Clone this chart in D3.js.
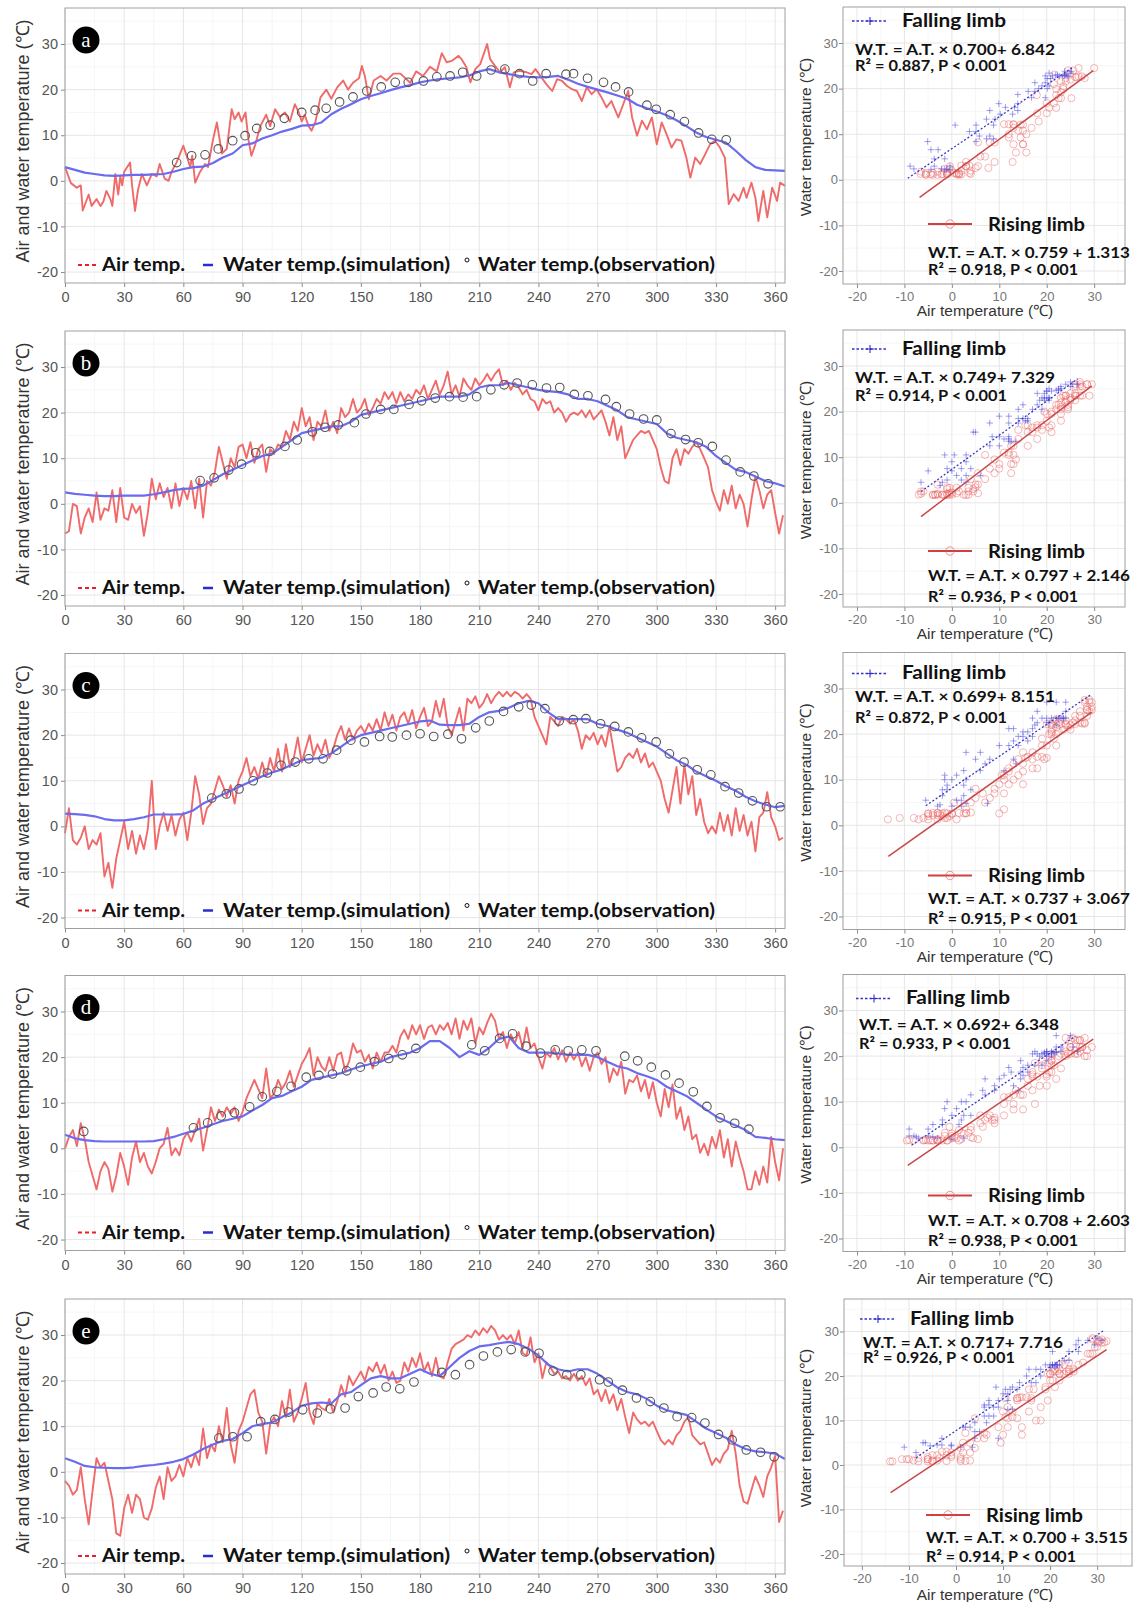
<!DOCTYPE html>
<html>
<head>
<meta charset="utf-8">
<script src="https://cdn.jsdelivr.net/npm/d3@7"></script>
<style>
  body { margin: 0; background: #fff; }
  svg { display: block; }
</style>
</head>
<body>
<div id="chart"></div>
<script>
// ---- data ----
var letters = ["a", "b", "c", "d", "e"];
var dayTicks = [0, 30, 60, 90, 120, 150, 180, 210, 240, 270, 300, 330, 360];
var dayMinor = [15, 45, 75, 105, 135, 165, 195, 225, 255, 285, 315, 345];
var tempTicks = [-20, -10, 0, 10, 20, 30];
var tempMinor = [-15, -5, 5, 15, 25, 35];

// simulated water temperature is read every 5 days
var simDays = d3.range(0, 366, 5);

// air temperature: [day of year, °C]
var airA = [[0,3],[3,-0.5],[6,-1.5],[8,-1],[9,-6.5],[12,-3],[13.5,-5.5],[16,-4],[18,-5.5],[19.5,-4.5],[21,-2.2],[23,-4],[24,-5.5],[25.5,1.5],[27,-3],[28,1],[29,-1],[30,2],[33,4],[34,-1],[35.5,-6.6],[37,-2],[39,1.5],[41.5,-1],[44,1.5],[46.5,1],[48,3.7],[50.5,0.5],[52.5,0],[54,2],[56.5,4],[60,7.7],[62,5],[63.5,3],[64.5,5.5],[66,-0.4],[68.5,2],[71,3.7],[72.5,3],[75,9],[77,12.8],[79.5,6],[82,7],[84.5,15.7],[86,13.5],[88,15],[89.5,13],[91.5,15],[93,9],[94.5,5.5],[96.5,8],[99,12],[102,14.5],[104,12],[106.5,15.7],[109,14],[111.5,15],[114,13],[116.5,16.8],[118.5,15],[120,13],[121.5,14.5],[123.5,12],[125,11],[127,13],[129.5,18.3],[132.5,20],[135,18],[138,20.5],[141,22],[143.5,20],[146,21.5],[149,22.5],[150.5,25.2],[152,23],[154,17.9],[156.5,22],[160,23],[163,22],[166.5,23.5],[170,23.5],[175,21.5],[178,24],[181.5,23],[185,25],[188.5,24],[191,28],[193.5,26],[196,26.3],[199.5,27.4],[201,26.7],[203.5,24.9],[205.5,21.6],[208,24.5],[210.5,25.6],[214,30],[215.5,26.7],[218,25.2],[220.5,23.8],[223,24.9],[225.5,20.5],[227.5,23.8],[230.5,24.1],[234,23.8],[236.5,23.4],[238.5,24.5],[241.5,22.7],[244,21.2],[247,19.7],[249.5,22.3],[252,21.9],[254.5,20.8],[257,20.1],[259.5,19.7],[262,17.5],[264.5,20.5],[267,19],[269.5,20.1],[272,18.3],[274.5,16.1],[277,17.5],[280.5,13.9],[283,16.8],[285.5,19.7],[287.5,13.9],[290,9.9],[292.5,13.2],[295,11.3],[297.5,13.9],[300,8],[302.5,12.8],[305,10.2],[307.5,7.3],[310,9.1],[312.5,8.8],[315,5.1],[317,0.7],[319.5,5.1],[322,3.7],[324.5,5.8],[327,8],[329.5,8.8],[332,7.3],[334.5,5.1],[336.5,-5.1],[339,-2.9],[341.5,-4.4],[344,-1.5],[345.5,-3.7],[348,-0.4],[350,-3.7],[351.5,-8.8],[354,-2.2],[356,-8],[358.5,-1.5],[361,-4.4],[362.5,-0.4],[365,-1.1]];
var airB = [[0,-6.5],[2,-6],[4,0],[6,-0.5],[8,-6.5],[10,-3],[12,-1],[14,-4],[16,2.5],[18,-3.5],[20,-1],[22,-1.5],[24,3],[26,-4],[28,3.5],[30,-3],[32,-3.5],[34,0],[36,-2],[38,-0.5],[40,-7],[42,-2],[44,5.5],[46,1],[48,4.5],[50,1.5],[52,3.5],[54,-1],[56,4.5],[58,-0.5],[60,3.5],[62,1],[64,5],[66,-1],[68,5.5],[70,-3],[72,5],[74,4],[76,7],[78,12.5],[80,9],[82,5.5],[84,10],[86,8],[88,12.5],[90,13],[92,10],[94,13.5],[96,9],[98,12],[100,13],[102,7],[104,12],[106,11],[108,13],[110,12.5],[112,16],[114,14],[116,18],[118,16],[120,21],[122,17],[124,19],[126,14],[128,18],[130,17],[132,20.5],[134,16],[136,18],[138,15.5],[140,21],[142,19],[144,20],[146,23],[148,20],[150,21],[152,23],[154,19.5],[156,21],[158,23],[160,22],[162,24.5],[164,23],[166,24.5],[168,22],[170,24.5],[172,22.5],[174,24],[176,23],[178,25],[180,24],[182,26],[184,23],[186,25],[188,27],[190,24],[192,26],[194,29],[196,24],[198,26],[200,23.5],[202,27.5],[204,26],[206,25],[208,27.5],[210,26],[212,27],[214,28.5],[216,27],[218,28.5],[220,29.5],[222,26],[224,27],[226,25],[228,26.5],[230,25.5],[232,24],[234,25],[236,23],[238,22.5],[240,20.5],[242,23],[244,22],[246,22.5],[248,20],[250,21],[252,20],[254,18],[256,19.5],[258,20],[260,19.5],[262,20.5],[264,19],[266,20.5],[268,18.5],[270,19.5],[272,20.5],[274,18],[276,15],[278,19],[280,14],[282,17],[284,10],[286,12],[288,14],[290,15],[292,16],[294,15.5],[296,16],[298,14],[300,12],[302,8],[304,5],[306,4.5],[308,10],[310,12],[312,8.5],[314,12],[316,11],[318,12.5],[320,13.5],[322,12],[324,10],[326,8],[328,3],[330,0.5],[332,-1.5],[334,3],[336,0],[338,4],[340,-1],[342,2],[344,0],[346,-5],[348,1],[350,6],[352,3],[354,-1],[356,2],[358,3],[360,-2],[362,-6.5],[364,-2.5]];
var airC = [[0,-1.5],[2,4],[4,-3],[6,-4],[8,-2.5],[10,0],[12,-5],[14,-3],[16,-4],[18,-1.5],[20,-11],[22,-8],[24,-13.5],[26,-7],[28,-3],[30,1],[32,-5],[34,-1],[36,-6],[38,-2],[40,-5],[42,-0.5],[44,10],[46,-5],[48,0],[50,3],[52,-1],[54,2.5],[56,-2],[58,1.5],[60,3],[62,-3],[64,3],[66,11],[68,7],[70,0.5],[72,4],[74,5],[76,8],[78,11],[80,9],[82,6.5],[84,9],[86,5],[88,10],[90,12],[92,15],[94,11],[96,13],[98,10.5],[100,14],[102,11],[104,15],[106,12],[108,17],[110,12],[112,18],[114,13],[116,15],[118,19.5],[120,14],[122,17],[124,20],[126,15.5],[128,18],[130,16],[132,19],[134,15],[136,17],[138,20],[140,22],[142,19],[144,21.5],[146,19],[148,21],[150,22],[152,20.5],[154,22.5],[156,21],[158,23.5],[160,21],[162,25],[164,22],[166,24.5],[168,21],[170,24],[172,25],[174,22.5],[176,25.5],[178,21.5],[180,24],[182,26],[184,22],[186,23],[188,27.5],[190,24],[192,28],[194,22],[196,20],[198,23],[200,26],[202,21],[204,28],[206,27],[208,28.5],[210,26],[212,27],[214,29],[216,27],[218,28.5],[220,29.5],[222,28.5],[224,29.5],[226,28.5],[228,29.5],[230,29],[232,28],[234,29],[236,28],[238,24],[240,22],[242,20],[244,18],[246,24],[248,23],[250,22],[252,24],[254,23.5],[256,22.5],[258,23.5],[260,21],[262,17],[264,20],[266,19],[268,20.5],[270,18],[272,20],[274,17.5],[276,22],[278,17],[280,12],[282,13],[284,15],[286,16],[288,15],[290,17],[292,14],[294,16],[296,13],[298,14],[300,12],[302,10],[304,6],[306,3],[308,8],[310,13],[312,5],[314,13.5],[316,7],[318,11],[320,2.5],[322,6],[324,1],[326,-1.5],[328,0],[330,-1.5],[332,3],[334,-1],[336,2.5],[338,-2],[340,4],[342,-1],[344,2.5],[346,-2],[348,1],[350,-5.5],[352,2],[354,3],[356,7.5],[358,2],[360,0],[362,-3],[364,-2.5]];
var airD = [[0,0],[2,2.5],[4,4],[6,0.5],[8,5.5],[10,2],[12,-3],[14,-6],[16,-9],[18,-5],[20,-3],[22,-4.5],[24,-9.5],[26,-6],[28,-1],[30,-4],[32,-8],[34,-2],[36,1.5],[38,-3],[40,-1],[42,-4],[44,-5.5],[46,-3],[48,0],[50,1],[52,4.5],[54,-1.5],[56,0],[58,-1.5],[60,2],[62,3.5],[64,1.5],[66,4],[68,6.5],[70,-0.5],[72,4],[74,9],[76,6],[78,8.5],[80,7],[82,9],[84,7.5],[86,9],[88,6],[90,8],[92,11],[94,13],[96,15],[98,13],[100,11],[102,17.5],[104,11],[106,12],[108,15],[110,13],[112,14.5],[114,17],[116,13.5],[118,16],[120,18.5],[122,20],[124,22],[126,16],[128,20],[130,18],[132,17],[134,20],[136,17],[138,20.5],[140,21],[142,17],[144,19],[146,23],[148,21],[150,21.5],[152,19],[154,20.5],[156,17.5],[158,21],[160,19],[162,21],[164,21],[166,22.5],[168,21],[170,24.5],[172,26],[174,24],[176,27],[178,25],[180,27],[182,24],[184,26.5],[186,27],[188,25],[190,27],[192,26],[194,27.5],[196,25],[198,28.5],[200,24],[202,28],[204,26],[206,28.5],[208,23],[210,26.5],[212,25],[214,27.5],[216,29.5],[218,28],[220,24],[222,25.5],[224,22],[226,25],[228,23],[230,25.5],[232,22],[234,26.5],[236,22],[238,23],[240,20],[242,17.5],[244,21],[246,20],[248,22],[250,19.5],[252,21.5],[254,19],[256,21],[258,19.5],[260,21],[262,18],[264,20],[266,17],[268,20],[270,21],[272,18.5],[274,20],[276,14.5],[278,17.5],[280,16],[282,19],[284,12],[286,15],[288,14.5],[290,16],[292,12.5],[294,15],[296,11],[298,14.5],[300,10],[302,7],[304,13],[306,9],[308,14],[310,6.5],[312,9],[314,4],[316,7],[318,2],[320,3],[322,-1],[324,1],[326,-1.5],[328,2.5],[330,0],[332,4],[334,-2],[336,2],[338,-4],[340,1.5],[342,-2],[344,-5],[346,-9],[348,-9],[350,-5],[352,-8],[354,-4],[356,-7.5],[358,2.5],[360,-3],[362,-7],[364,0]];
var airE = [[0,-2],[2,-3],[4,-5],[6,-4],[8,1],[10,-6],[12,-11.5],[14,-4],[16,3],[18,1],[20,2],[22,-2],[24,-6],[26,-13.5],[28,-14],[30,-8],[32,-5],[34,-9],[36,-5],[38,-6],[40,-10],[42,-10.5],[44,-8],[46,-3.5],[48,-1],[50,-6],[52,1],[54,-2],[56,-1],[58,1.5],[60,-1],[62,3],[64,1],[66,4],[68,1.5],[70,9.5],[72,3],[74,6],[76,4.5],[78,10],[80,6.5],[82,14],[84,6],[86,2],[88,9],[90,11],[92,14],[94,17],[96,18],[98,13],[100,11],[102,4],[104,10.5],[106,12],[108,10],[110,15.5],[112,12],[114,18],[116,11],[118,13],[120,16],[122,19.5],[124,13],[126,10.5],[128,15],[130,14],[132,13.5],[134,16],[136,13],[138,15.5],[140,19],[142,16.5],[144,21],[146,19],[148,20.5],[150,22],[152,20],[154,23],[156,22],[158,24],[160,21.5],[162,23.5],[164,20],[166,22],[168,19.5],[170,20],[172,24],[174,22],[176,25],[178,23],[180,26],[182,22],[184,24],[186,21],[188,25],[190,21],[192,20.5],[194,24],[196,27],[198,28],[200,28.5],[202,29],[204,30],[206,29.5],[208,31],[210,30],[212,31.5],[214,30.5],[216,32],[218,31],[220,29],[222,30],[224,29],[226,30],[228,28],[230,31],[232,26],[234,25.5],[236,29.5],[238,24],[240,26],[242,20.5],[244,24],[246,23],[248,21.5],[250,22],[252,20.5],[254,21],[256,20],[258,21.5],[260,20],[262,21],[264,19],[266,20.5],[268,17],[270,18],[272,15.5],[274,18],[276,15],[278,17],[280,13.5],[282,16],[284,12],[286,8.5],[288,13],[290,11.5],[292,10.5],[294,11],[296,10],[298,11],[300,9],[302,7],[304,6],[306,7],[308,6],[310,8],[312,9],[314,11],[316,12],[318,8],[320,7],[322,6],[324,6.5],[326,4],[328,1.5],[330,3],[332,2],[334,4],[336,5],[338,9],[340,4],[342,-3],[344,-6.5],[346,-7],[348,-4],[350,-1],[352,-3],[354,-5.5],[356,-1],[358,1],[360,3.5],[362,-11],[364,-8.5]];

// simulated water temperature, one value per simDays entry
var simA = [3,2.4,1.8,1.5,1.2,1.1,1.2,1.3,1.3,1.4,1.5,2,2.6,3,3.1,3.9,5.1,6,7.8,8.2,9.3,10,10.8,11.4,12.1,12.2,12.8,14.6,15.8,16.8,17.9,18.6,19.2,19.9,20.5,21,21.6,22,22.3,22.5,22.7,23.1,24,24.5,23.8,23.4,23,22.8,22.7,22.8,23,22.2,21.3,20.6,20,19.4,18.7,18,16.7,15.9,15.2,14.4,13.3,12,10.6,9.6,9,8.4,6.6,4.6,3,2.4,2.3,2.2];
var simB = [2.5,2.2,2,1.8,1.7,1.7,1.8,1.8,1.8,2.1,2.5,3,3.3,3.4,4,5.2,6.5,7.5,8.5,9.5,10.5,11,12.5,14,15.5,16,16.5,17,17,18,19.5,20,20.5,21,21.5,22,22.5,23,23.5,23.5,23.5,24,25.5,26,26,26.5,26,25.5,25,24.7,24.5,24,23,23,22.5,21.5,20.5,19,18.5,18,17.5,15.5,14.5,14,13.5,12.5,10.5,9,7.5,7,6,5,4.5,3.8];
var simC = [2.8,2.7,2.5,2.2,1.6,1.3,1.3,1.6,2,2.6,2.6,2.6,2.7,3.5,5,6,7,8,9,10,11,11.8,12.5,13.5,14.5,14.8,15,16,17.5,19,20,20.5,21,21.5,22,22.5,23,23.2,22.3,22.2,22.2,22.5,24,25,25.3,26,27,27.5,27,25,23.5,23.5,23.5,23.5,22.5,22,21.2,20.5,19.5,18.5,17.5,16,14.5,13.5,12,11,10,8.8,7.8,6.5,5.5,4.8,4.2,4.5];
var simD = [3,2.2,1.8,1.6,1.5,1.5,1.5,1.5,1.5,1.6,2,2.5,3.2,3.8,4.5,5.3,6,6.5,7,8.3,9.5,11,11.5,12.5,13.5,15,15.5,16,16.5,17.3,18,18.5,19,20,20.5,21,22,23.5,23.5,22,20,21.3,20.5,22,24,24.5,22,21,21,21,20.8,20.5,20.5,20.5,20,19,18,17.5,16.5,15.8,15,13.5,12.5,11.5,10,8.5,7,6,5,4,2.5,2.3,2,1.8];
var simE = [3,2.2,1.3,1,0.9,0.8,0.8,1,1.3,1.5,1.8,2.2,2.8,3.8,5,6,6.8,7.2,8.5,10,10.5,10.8,12,13,14.5,15,15.2,15,17,17.5,19,20.5,21,20.5,20.5,21.5,22.5,21.5,21,23,25,26.5,27.5,27.8,28.2,28.5,28,27,25.5,23.5,22.5,22,22.5,22.5,21.5,20,18.5,17.5,17,16,14.5,13.5,13,12.5,11,9.5,8.5,7.5,6,5,4.5,4.3,4,2.8];

// observed water temperature: [day, °C]
var obsA = [[56.6,4],[64.2,5.5],[71,5.7],[77.7,7],[85,8.8],[91.3,9.9],[97.2,11.5],[104,12.2],[111.2,13.7],[120,15],[126.8,15.5],[132.4,15.9],[139.2,17.3],[146,18.4],[153,19.7],[160.3,20.6],[167.4,21.6],[174,21.6],[181.7,21.9],[188.5,22.8],[195.2,23],[201.6,23.8],[208.7,23],[216,24.3],[223,24.5],[230.4,23.5],[237.1,21.9],[243.9,23.5],[254,23.4],[257.8,23.5],[264.9,22.5],[273,21.6],[279.1,20.6],[285.7,19.5],[295,16.6],[299.7,15.7],[306.8,14.5],[314,13],[321.2,10.5],[327.9,9.1],[335.2,9]];
var obsB = [[68.5,5.1],[75.6,5.7],[83,7.4],[89.5,8.7],[96.7,11.2],[103.8,11.5],[111.5,12.6],[117.7,14],[125.4,15.8],[131.8,16.8],[138.5,17.3],[146.7,17.8],[152.6,19.7],[160,20.7],[166.7,20.7],[174.4,21.8],[180.8,22.6],[187.7,23.2],[194.9,23.5],[201.8,23.4],[208.7,23.5],[215.9,25],[222.6,26.1],[229.2,26.5],[236.9,26.1],[244.1,25.4],[250.8,25.5],[258.2,24],[265.1,23.7],[274,22.9],[279.5,21.3],[286.2,19.7],[293.3,18.6],[300,18.4],[307.2,15.4],[314.6,14.1],[321,13.4],[328.2,12.6],[335.1,9.6],[342.3,7],[349.2,6.1],[356.4,4.4]];
var obsC = [[74.4,6.2],[81.8,7.1],[88.2,8.2],[95.4,10],[102.6,11.7],[109.5,13.4],[116.7,14.1],[123.6,14.8],[130.8,14.8],[137.7,16.7],[144.9,18.9],[151.8,18.5],[159.5,19.7],[165.9,19.6],[173.1,20],[180,20.3],[186.9,19.7],[194.1,20.2],[201,19.2],[208.2,21.6],[215.1,23.1],[222.3,25.2],[230,26.2],[236.4,26.6],[243.3,25.8],[250.5,23.1],[257.7,23.4],[264.1,23.6],[271.5,22.5],[278.7,21.9],[285.6,20.7],[292.3,19.4],[299.7,18.5],[306.4,15.9],[313.8,14.1],[320.5,12.4],[327.4,11.3],[334.6,8.7],[341.5,7.3],[348.5,5.6],[355.6,4.3],[362.6,4.3]];
var obsD = [[9.5,3.7],[65.1,4.5],[72.3,5.6],[79.2,7.1],[85.9,7.8],[93.6,9.1],[100,11.3],[107.4,12.5],[114.6,13.6],[122.3,15.6],[128.7,16],[135.6,16.3],[142.8,17],[149.7,17.8],[156.9,19],[164.1,19.7],[171,20.5],[177.9,21.9],[206.2,22.7],[212.8,21.4],[220.3,24.1],[226.9,25.1],[233.8,22.4],[241,20.9],[248.5,21.6],[255.1,21.4],[262,21.6],[269.2,21.4],[283.8,20.2],[290.3,19.2],[297.2,17.8],[304.4,16.1],[311.3,14.3],[318.5,12.4],[325.4,9.2],[332.1,6.7],[339.5,5.5],[346.7,4.2]];
var obsE = [[78,7.4],[85.1,7.7],[92.3,7.7],[99.2,11],[106.4,11.5],[113.3,13.1],[120.5,13.6],[127.9,12.9],[134.6,13.8],[142,14],[148.7,16.5],[156.2,17.3],[162.8,18.6],[169.7,18.2],[176.9,19.7],[191,21.8],[197.9,21.3],[205.1,23.5],[212.1,25.4],[219.2,26.3],[226.2,26.8],[233.3,26.3],[240.3,26],[247.4,22.1],[254.4,21.3],[261.5,21.3],[271,20.2],[275.4,19.7],[282.6,17.9],[289.7,16.2],[296.7,15.4],[303.6,14],[310.3,12.1],[317.7,11.9],[324.4,10.7],[331.3,8.2],[338.2,7],[345.4,4.8],[352.6,4.3],[359.5,3.3]];

// day of the water peak: before it = rising limb, after it = falling limb
var peakDay = [216, 225, 236, 222, 225];

// fitted lines [slope, intercept] and the air range each one spans
var fallingFit = [[0.700, 6.842], [0.749, 7.329], [0.699, 8.151], [0.692, 6.348], [0.717, 7.716]];
var risingFit = [[0.759, 1.313], [0.797, 2.146], [0.737, 3.067], [0.708, 2.603], [0.700, 3.515]];
var fallingRange = [[-9.3, 25.5], [-6.5, 26.5], [-5.5, 29.5], [-8.5, 26], [-8.5, 31.5]];
var risingRange = [[-6.8, 29.8], [-6.5, 29.5], [-13.4, 29.5], [-9.3, 29.8], [-13.9, 32]];

var fallingEq = ["W.T. = A.T.  × 0.700+ 6.842", "W.T. = A.T.  × 0.749+ 7.329", "W.T. = A.T.  × 0.699+ 8.151", "W.T. = A.T.  × 0.692+ 6.348", "W.T. = A.T.  × 0.717+ 7.716"];
var fallingR2 = ["R² = 0.887, P < 0.001", "R² = 0.914, P < 0.001", "R² = 0.872, P < 0.001", "R² = 0.933, P < 0.001", "R² = 0.926, P < 0.001"];
var risingEq = ["W.T. = A.T.  × 0.759 + 1.313", "W.T. = A.T.  × 0.797 + 2.146", "W.T. = A.T.  × 0.737 + 3.067", "W.T. = A.T.  × 0.708 + 2.603", "W.T. = A.T.  × 0.700 + 3.515"];
var risingR2 = ["R² = 0.918, P < 0.001", "R² = 0.936, P < 0.001", "R² = 0.915, P < 0.001", "R² = 0.938, P < 0.001", "R² = 0.914, P < 0.001"];

var panels = [
    { air: airA, sim: simA, obs: obsA },
    { air: airB, sim: simB, obs: obsB },
    { air: airC, sim: simC, obs: obsC },
    { air: airD, sim: simD, obs: obsD },
    { air: airE, sim: simE, obs: obsE }
];

// ---- layout ----
var panelTop = [0, 323, 645.5, 967.5, 1291];
var scatterBox = [
    { x0: 843, x1: 1125, y0: 7, y1: 284, xd: [-22.95, 36.5], yd: [-22.85, 37.9], xTitleY: 311 },
    { x0: 843, x1: 1125, y0: 7, y1: 284, xd: [-22.95, 36.5], yd: [-22.85, 37.9], xTitleY: 311 },
    { x0: 843, x1: 1125, y0: 7, y1: 284, xd: [-22.95, 36.5], yd: [-22.85, 37.9], xTitleY: 311 },
    { x0: 843, x1: 1125, y0: 7, y1: 284, xd: [-22.95, 36.5], yd: [-22.85, 37.9], xTitleY: 311 },
    { x0: 844, x1: 1132, y0: 8, y1: 275, xd: [-23.8, 37.4], yd: [-22.7, 37.3], xTitleY: 304 }
];
// text rows of the two legend blocks: [title, equation, R²] and x shifts
var fallY = [[20, 50, 66], [25, 55, 73], [27, 51, 72], [30, 57, 76], [27, 52, 67]];
var riseY = [[224, 253, 270], [228, 253, 274], [230, 253, 273], [228, 253, 273], [224, 247, 266]];
var fallDx = [0, 0, 0, 4, 8];
var riseDx = [0, 0, 0, 0, -2];

var tickFont = "'Liberation Sans', Arial, sans-serif";
var boldFont = "Lato, 'Open Sans', sans-serif";

var svg = d3.select("#chart")
    .append("svg")
    .attr("width", 1136)
    .attr("height", 1602);

var x = d3.scaleLinear().domain([0, 365]).range([65, 785]);
var y = d3.scaleLinear().domain([-22.4, 37.9]).range([283, 8]);

var airLine = d3.line()
    .x(function (d) { return x(d[0]); })
    .y(function (d) { return y(d[1]); });

var simLine = d3.line()
    .x(function (d, k) { return x(simDays[k]); })
    .y(function (d) { return y(d); });

var plain = function (d) { return String(d); };

function grid(g, xs, ys, xv, yv, color, width) {
    g.append("g").selectAll("line").data(xv).enter().append("line")
        .attr("x1", function (d) { return xs(d); })
        .attr("x2", function (d) { return xs(d); })
        .attr("y1", ys.range()[0]).attr("y2", ys.range()[1])
        .attr("stroke", color).attr("stroke-width", width);
    g.append("g").selectAll("line").data(yv).enter().append("line")
        .attr("y1", function (d) { return ys(d); })
        .attr("y2", function (d) { return ys(d); })
        .attr("x1", xs.range()[0]).attr("x2", xs.range()[1])
        .attr("stroke", color).attr("stroke-width", width);
}

function styleAxis(a, size, color) {
    a.attr("font-family", tickFont).attr("font-size", size);
    a.select(".domain").remove();
    a.selectAll(".tick line").attr("stroke", "#8a8a8a");
    a.selectAll(".tick text").attr("fill", color);
}

function boldText(g, tx, ty, str, size, len) {
    return g.append("text")
        .attr("x", tx).attr("y", ty)
        .attr("dy", "0.35em")
        .attr("font-family", boldFont)
        .attr("font-weight", "bold")
        .attr("font-size", size)
        .attr("fill", "#111")
        .attr("textLength", len)
        .attr("lengthAdjust", "spacingAndGlyphs")
        .text(str);
}

panels.forEach(function (p, i) {
    var g = svg.append("g").attr("transform", "translate(0," + panelTop[i] + ")");

    // ---------- time series ----------
    grid(g, x, y, dayMinor, tempMinor, "#f4f4f4", 0.8);
    grid(g, x, y, dayTicks, tempTicks, "#e6e6e6", 1);

    g.append("g")
        .attr("transform", "translate(0,283)")
        .call(d3.axisBottom(x).tickValues(dayTicks).tickFormat(plain).tickSize(4).tickPadding(5))
        .call(styleAxis, 14.5, "#555");

    g.append("g")
        .attr("transform", "translate(65,0)")
        .call(d3.axisLeft(y).tickValues(tempTicks).tickFormat(plain).tickSize(4).tickPadding(3))
        .call(styleAxis, 14.5, "#555");

    g.append("text")
        .attr("transform", "translate(23,141) rotate(-90)")
        .attr("text-anchor", "middle")
        .attr("dy", "0.35em")
        .attr("font-family", tickFont)
        .attr("font-size", 18)
        .attr("fill", "#333")
        .text("Air and water temperature (℃)");

    g.append("path")
        .attr("d", airLine(p.air))
        .attr("fill", "none")
        .attr("stroke", "#f06a6a")
        .attr("stroke-width", 1.9)
        .attr("stroke-linejoin", "round");

    g.append("path")
        .attr("d", simLine(p.sim))
        .attr("fill", "none")
        .attr("stroke", "#6b6bef")
        .attr("stroke-width", 2.2)
        .attr("stroke-linejoin", "round");

    g.append("g").selectAll("circle")
        .data(p.obs)
        .enter().append("circle")
        .attr("cx", function (d) { return x(d[0]); })
        .attr("cy", function (d) { return y(d[1]); })
        .attr("r", 4.3)
        .attr("fill", "none")
        .attr("stroke", "#555")
        .attr("stroke-width", 1.1);

    g.append("rect")
        .attr("x", 65).attr("y", 8)
        .attr("width", 720).attr("height", 275)
        .attr("fill", "none")
        .attr("stroke", "#a0a0a0");

    // legend
    g.append("line")
        .attr("x1", 78).attr("x2", 98).attr("y1", 265).attr("y2", 265)
        .attr("stroke", "#e8202a").attr("stroke-width", 2)
        .attr("stroke-dasharray", "4,3");
    boldText(g, 102, 265, "Air temp.", 18, 83);
    g.append("line")
        .attr("x1", 203).attr("x2", 213).attr("y1", 265).attr("y2", 265)
        .attr("stroke", "#2b2bd0").attr("stroke-width", 2.5);
    boldText(g, 223, 265, "Water temp.(simulation)", 18, 227);
    g.append("circle")
        .attr("cx", 467).attr("cy", 260).attr("r", 2)
        .attr("fill", "none").attr("stroke", "#111").attr("stroke-width", 1);
    boldText(g, 478, 265, "Water temp.(observation)", 18, 237);

    // panel letter
    g.append("circle")
        .attr("cx", 86).attr("cy", 40).attr("r", 13.5)
        .attr("fill", "#000");
    g.append("text")
        .attr("x", 86).attr("y", 40)
        .attr("dy", "0.32em")
        .attr("text-anchor", "middle")
        .attr("font-family", "'Liberation Serif', 'DejaVu Serif', serif")
        .attr("font-size", 21)
        .attr("fill", "#fff")
        .text(letters[i]);

    // ---------- scatter of water vs air temperature ----------
    var b = scatterBox[i];
    var sx = d3.scaleLinear().domain(b.xd).range([b.x0, b.x1]);
    var sy = d3.scaleLinear().domain(b.yd).range([b.y1, b.y0]);

    grid(g, sx, sy, tempMinor, tempMinor, "#f4f4f4", 0.8);
    grid(g, sx, sy, tempTicks, tempTicks, "#e6e6e6", 1);

    g.append("g")
        .attr("transform", "translate(0," + b.y1 + ")")
        .call(d3.axisBottom(sx).tickValues(tempTicks).tickFormat(plain).tickSize(4).tickPadding(4))
        .call(styleAxis, 13, "#777");

    g.append("g")
        .attr("transform", "translate(" + b.x0 + ",0)")
        .call(d3.axisLeft(sy).tickValues(tempTicks).tickFormat(plain).tickSize(4).tickPadding(1))
        .call(styleAxis, 13, "#777");

    g.append("text")
        .attr("transform", "translate(806,137) rotate(-90)")
        .attr("text-anchor", "middle")
        .attr("dy", "0.35em")
        .attr("font-family", tickFont)
        .attr("font-size", 15.5)
        .attr("fill", "#333")
        .text("Water temperature (℃)");

    g.append("text")
        .attr("x", 985).attr("y", b.xTitleY)
        .attr("text-anchor", "middle")
        .attr("dy", "0.35em")
        .attr("font-family", tickFont)
        .attr("font-size", 15.5)
        .attr("fill", "#333")
        .text("Air temperature (℃)");

    // pair each air reading with the water value of the nearest 5-day sample
    var pts = p.air.map(function (d) {
        return { air: d[1], water: p.sim[Math.round(d[0] / 5)], rising: d[0] <= peakDay[i] };
    });

    g.append("g").selectAll("circle")
        .data(pts.filter(function (d) { return d.rising; }))
        .enter().append("circle")
        .attr("cx", function (d) { return sx(d.air); })
        .attr("cy", function (d) { return sy(d.water); })
        .attr("r", 3.6)
        .attr("fill", "none")
        .attr("stroke", "rgba(232,95,95,0.45)")
        .attr("stroke-width", 1);

    g.append("g").selectAll("path")
        .data(pts.filter(function (d) { return !d.rising; }))
        .enter().append("path")
        .attr("transform", function (d) { return "translate(" + sx(d.air) + "," + sy(d.water) + ")"; })
        .attr("d", "M-3.2,0H3.2M0,-3.2V3.2")
        .attr("stroke", "rgba(70,70,225,0.5)")
        .attr("stroke-width", 1);

    var ff = fallingFit[i], rf = risingFit[i];
    g.append("line")
        .attr("x1", sx(fallingRange[i][0])).attr("y1", sy(ff[0] * fallingRange[i][0] + ff[1]))
        .attr("x2", sx(fallingRange[i][1])).attr("y2", sy(ff[0] * fallingRange[i][1] + ff[1]))
        .attr("stroke", "#3838c0").attr("stroke-width", 1.3)
        .attr("stroke-dasharray", "2,2");
    g.append("line")
        .attr("x1", sx(risingRange[i][0])).attr("y1", sy(rf[0] * risingRange[i][0] + rf[1]))
        .attr("x2", sx(risingRange[i][1])).attr("y2", sy(rf[0] * risingRange[i][1] + rf[1]))
        .attr("stroke", "#c84848").attr("stroke-width", 1.5);

    g.append("rect")
        .attr("x", b.x0).attr("y", b.y0)
        .attr("width", b.x1 - b.x0).attr("height", b.y1 - b.y0)
        .attr("fill", "none")
        .attr("stroke", "#a0a0a0");

    // scatter legends and equations
    var fdx = fallDx[i], fy = fallY[i];
    g.append("line")
        .attr("x1", 852 + fdx).attr("x2", 887 + fdx).attr("y1", fy[0] + 1).attr("y2", fy[0] + 1)
        .attr("stroke", "#3030c8").attr("stroke-width", 1.6)
        .attr("stroke-dasharray", "2.5,2");
    g.append("path")
        .attr("transform", "translate(" + (870 + fdx) + "," + (fy[0] + 1) + ")")
        .attr("d", "M-4,0H4M0,-4V4")
        .attr("stroke", "#3030c8").attr("stroke-width", 1.1);
    boldText(g, 902 + fdx, fy[0], "Falling limb", 19, 104);
    boldText(g, 855 + fdx, fy[1], fallingEq[i], 15.5, 200);
    boldText(g, 855 + fdx, fy[2], fallingR2[i], 15.5, 152);

    var rdx = riseDx[i], ry = riseY[i];
    g.append("line")
        .attr("x1", 928 + rdx).attr("x2", 972 + rdx).attr("y1", ry[0]).attr("y2", ry[0])
        .attr("stroke", "#d04040").attr("stroke-width", 1.8);
    g.append("circle")
        .attr("cx", 950 + rdx).attr("cy", ry[0]).attr("r", 4.2)
        .attr("fill", "none").attr("stroke", "rgba(220,80,80,0.6)").attr("stroke-width", 1);
    boldText(g, 988 + rdx, ry[0], "Rising limb", 19, 97);
    boldText(g, 928 + rdx, ry[1], risingEq[i], 15.5, 202);
    boldText(g, 928 + rdx, ry[2], risingR2[i], 15.5, 150);
});
</script>
</body>
</html>
